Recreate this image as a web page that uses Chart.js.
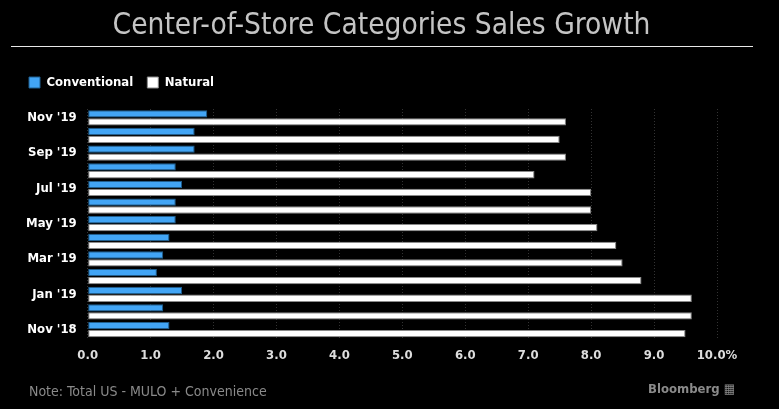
<!DOCTYPE html>
<html>
<head>
<meta charset="utf-8">
<script src="https://cdn.jsdelivr.net/npm/chart.js@4"></script>
<style>
  body { margin: 0; background: #000; }
  #wrap { position: relative; width: 779px; height: 409px; background: #000; overflow: hidden; }
  #title { position: absolute; left: -8px; width: 779px; top: 7px; text-align: center; color: #c4c4c4;
           font-family: 'DejaVu Sans Condensed', 'Liberation Sans Narrow', sans-serif; font-size: 29.6px; }
  #rule { position: absolute; left: 11px; width: 742px; top: 46px; height: 1px; background: #e8e8e8; }
  #note { position: absolute; left: 29px; top: 383px; color: #8a8a8a;
          font-family: 'DejaVu Sans Condensed', 'Liberation Sans Narrow', sans-serif; font-size: 14px; }
  #brand { position: absolute; left: 648px; top: 381px; color: #8a8a8a;
           font-family: 'DejaVu Sans Condensed', 'Liberation Sans Narrow', sans-serif; font-size: 13px; font-weight: bold; }
  canvas { position: absolute; left: 0; top: 0; }
</style>
</head>
<body>
<div id="wrap">
  <canvas id="salesChart" width="779" height="409"></canvas>
  <div id="title">Center-of-Store Categories Sales Growth</div>
  <div id="rule"></div>
  <div id="note">Note: Total US - MULO + Convenience</div>
  <div id="brand">Bloomberg &#9638;</div>
</div>
<script>
const months = ["Nov '19", "Oct '19", "Sep '19", "Aug '19", "Jul '19", "Jun '19", "May '19",
                "Apr '19", "Mar '19", "Feb '19", "Jan '19", "Dec '18", "Nov '18"];
const conventional = [1.9, 1.7, 1.7, 1.4, 1.5, 1.4, 1.4, 1.3, 1.2, 1.1, 1.5, 1.2, 1.3];
const natural = [7.6, 7.5, 7.6, 7.1, 8.0, 8.0, 8.1, 8.4, 8.5, 8.8, 9.6, 9.6, 9.5];

const labelFont = { family: "'DejaVu Sans Condensed', 'Liberation Sans Narrow', sans-serif", size: 13, weight: 'bold' };

// push the plot down a bit below the legend
const legendGap = {
    id: 'legendGap',
    beforeInit(chart) {
        const fit = chart.legend.fit;
        chart.legend.fit = function () {
            fit.bind(chart.legend)();
            this.height += 10;
        };
    }
};

const ctx = document.getElementById('salesChart').getContext('2d');
new Chart(ctx, {
    type: 'bar',
    data: {
        labels: months,
        datasets: [{
            label: 'Conventional',
            data: conventional,
            backgroundColor: '#42a5f5',
            borderColor: '#1f5f8f',
            borderWidth: 1,
            borderSkipped: false,
            categoryPercentage: 0.9,
            barPercentage: 0.92
        }, {
            label: 'Natural',
            data: natural,
            backgroundColor: '#ffffff',
            borderColor: '#8a8a8a',
            borderWidth: 1,
            borderSkipped: false,
            categoryPercentage: 0.9,
            barPercentage: 0.92
        }]
    },
    options: {
        indexAxis: 'y',
        responsive: false,
        animation: false,
        layout: { padding: { top: 70, bottom: 37, left: 23, right: 62 } },
        plugins: {
            legend: {
                position: 'top',
                align: 'start',
                labels: {
                    color: '#ffffff',
                    font: { family: labelFont.family, size: 13, weight: 'bold' },
                    boxWidth: 11,
                    boxHeight: 11,
                    padding: 6,
                    generateLabels: function (chart) {
                        const items = Chart.defaults.plugins.legend.labels.generateLabels(chart);
                        items.forEach(it => { it.text = it.text + '  '; });
                        return items;
                    }
                }
            },
            tooltip: { enabled: false }
        },
        scales: {
            x: {
                min: 0,
                max: 10,
                ticks: {
                    stepSize: 1,
                    color: '#dddddd',
                    font: labelFont,
                    padding: 9,
                    callback: v => v === 10 ? '10.0%' : v.toFixed(1)
                },
                grid: { color: '#333333', drawTicks: false },
                border: { display: false, dash: [1, 2] }
            },
            y: {
                ticks: {
                    color: '#ffffff',
                    font: labelFont,
                    autoSkip: false,
                    callback: function (v, i) { return i % 2 === 0 ? months[i] : ''; }
                },
                grid: { display: false },
                border: { display: false }
            }
        }
    },
    plugins: [legendGap]
});
</script>
</body>
</html>
